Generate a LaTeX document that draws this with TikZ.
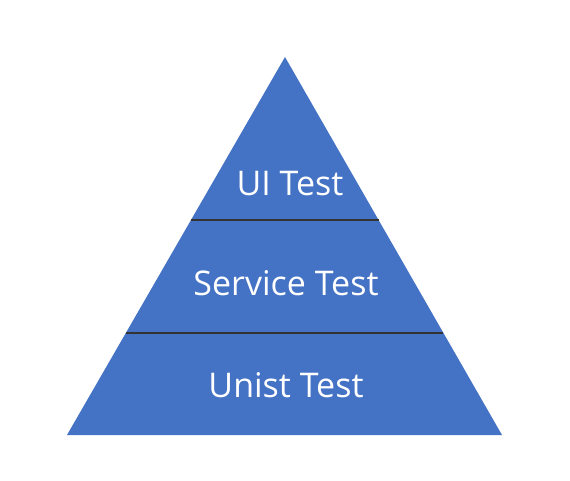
\documentclass[tikz,border=0pt]{standalone}
\usepackage{fontspec}
\setmainfont{Open Sans}
\usetikzlibrary{calc}
\definecolor{pyr}{HTML}{4472C4}
\definecolor{sep}{HTML}{333333}
\begin{document}
\begin{tikzpicture}[x=1pt,y=-1pt,
  lbl/.style={text=white,font=\fontsize{34}{40}\selectfont,inner sep=0pt,anchor=base},
  sepline/.style={draw=sep,line width=2pt}]
\useasboundingbox (0,0) rectangle (570,481);
\coordinate (apex) at (285,57);
\coordinate (bl) at (67,435);
\coordinate (br) at (502,435);
\fill[pyr] (apex) -- (bl) -- (br) -- cycle;
\coordinate (l1) at ($(apex)!0.4312!(bl)$);
\coordinate (r1) at ($(apex)!0.4312!(br)$);
\coordinate (l2) at ($(apex)!0.7302!(bl)$);
\coordinate (r2) at ($(apex)!0.7302!(br)$);
\draw[sepline] (l1) -- (r1);
\draw[sepline] (l2) -- (r2);
\node[lbl] (ui) at (290,196) {UI Test};
\node[lbl] (svc) at (286,295) {Service Test};
\node[lbl] (unit) at (286,397) {Unist Test};
\end{tikzpicture}
\end{document}
